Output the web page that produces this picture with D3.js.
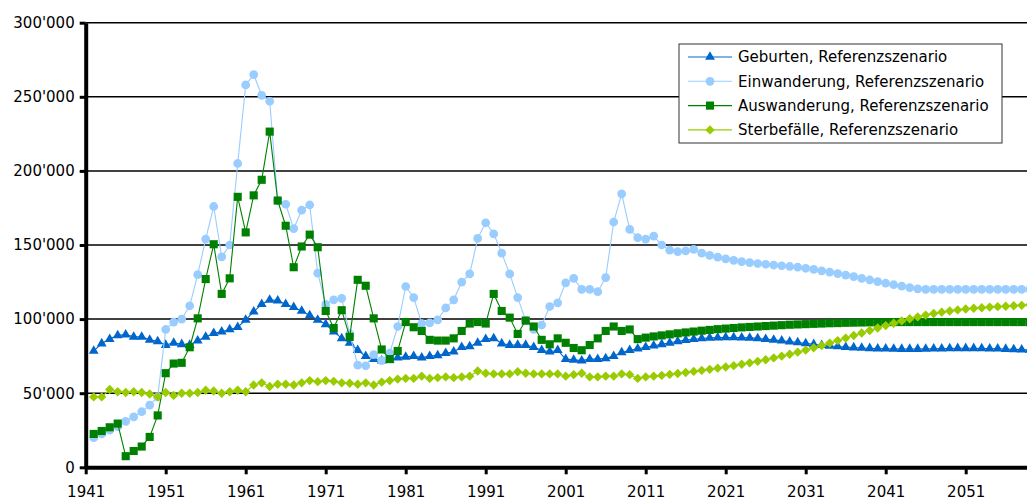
<!DOCTYPE html>
<html>
<head>
<meta charset="utf-8">
<script src="https://cdn.jsdelivr.net/npm/d3@7"></script>
<style>
  body { margin: 0; background: #fff; }
  text { font-family: "DejaVu Sans", Verdana, sans-serif; font-size: 15px; fill: #000; }
</style>
</head>
<body>
<script>
// categories: one value per year, first point 1942
var years = d3.range(1942, 2061);
var xTicks = [1941, 1951, 1961, 1971, 1981, 1991, 2001, 2011, 2021, 2031, 2041, 2051];
var yTicks = [0, 50000, 100000, 150000, 200000, 250000, 300000];

var geburten = [
    78500, 83500, 86500, 89000, 89500, 88000, 88000, 86000, 85000, 82500,
    84000, 83000, 82500, 85500, 88000, 90500, 91500, 93000, 94500, 99500,
    105000, 110000, 113000, 112500, 110000, 108000, 105500, 102500, 99500, 96500,
    91500, 87000, 84000, 79000, 75000, 73000, 72000, 72500, 74000, 74500,
    75000, 74000, 75000, 75500, 77000, 78000, 81000, 81500, 84000, 86500,
    87000, 83500, 82500, 82500, 82500, 81000, 79000, 78000, 79000, 73000,
    72500, 72000, 73000, 73000, 73500, 75000, 77500, 79000, 80000, 81000,
    82000, 83000, 84000, 85000, 85800, 86400, 86900, 87300, 87500, 87600,
    87600, 87500, 87300, 87000, 86500, 86000, 85400, 84800, 84200, 83600,
    83000, 82400, 81900, 81500, 81100, 80800, 80500, 80300, 80100, 80000,
    79900, 79800, 79800, 79800, 79900, 80000, 80100, 80200, 80300, 80300,
    80300, 80200, 80100, 80000, 79800, 79600, 79400, 79200, 79000
];
var einwanderung = [
    20000, 22500, 25000, 27500, 31000, 34000, 37500, 42000, 47500, 93000,
    98000, 100000, 109000, 130000, 154000, 176000, 142000, 150000, 205000, 258000,
    265000, 251000, 247000, 180000, 177500, 161000, 173500, 177000, 131000, 110000,
    113000, 114000, 90000, 69000, 68500, 76000, 72000, 77000, 95000, 122000,
    114500, 97000, 97500, 99500, 107500, 113000, 125000, 130500, 154500, 165000,
    157500, 144500, 130500, 114500, 99000, 93000, 96000, 108500, 111000, 124500,
    127500, 120000, 120000, 118500, 128000, 165500, 184500, 160500, 155000, 154000,
    156000, 150000, 146500, 145500, 146000, 147000, 144500, 143000, 141800, 140600,
    139600, 138800, 138100, 137500, 137000, 136500, 136000, 135500, 135000, 134300,
    133500, 132600, 131700, 130700, 129700, 128600, 127500, 126400, 125300, 124200,
    123200, 122200, 121200, 120400, 120000, 120000, 120000, 120000, 120000, 120000,
    120000, 120000, 120000, 120000, 120000, 120000, 120000, 120000, 120000
];
var auswanderung = [
    22500, 24500, 27000, 29500, 7500, 11000, 14000, 20500, 35000, 63500,
    70000, 70500, 81000, 100500, 127000, 150500, 117000, 127500, 182500, 158500,
    183500, 194000, 226500, 180000, 163000, 135000, 149000, 157000, 148500, 105500,
    94000, 106000, 88000, 126500, 122500, 100500, 79500, 73000, 78500, 98000,
    94500, 92000, 86000, 85500, 85500, 87000, 92000, 97000, 98000, 97000,
    117000, 105500, 101000, 90000, 99000, 95000, 86000, 83000, 87000, 84000,
    80500, 79000, 82500, 87000, 92000, 95000, 92000, 93000, 86500, 87500,
    88300, 89000, 89700, 90400, 91000, 91600, 92200, 92700, 93200, 93600,
    94000, 94400, 94700, 95000, 95300, 95600, 95900, 96200, 96400, 96600,
    96800, 97000, 97200, 97300, 97500, 97600, 97700, 97800, 97900, 98000,
    98000, 98000, 98000, 98000, 98000, 98000, 98000, 98000, 98000, 98000,
    98000, 98000, 98000, 98000, 98000, 98000, 98000, 98000, 98000
];
var sterbefaelle = [
    47500, 47500, 52500, 51000, 50500, 51000, 50500, 49500, 47500, 50500,
    48500, 50000, 50000, 50500, 52000, 51500, 50000, 51000, 52000, 51000,
    55500, 57000, 54500, 56000, 56000, 55500, 57000, 58500, 57800, 58500,
    58000, 57000, 56700, 56000, 57000, 55500, 57500, 58500, 59500, 60000,
    60000, 61500, 60000, 60500, 61000, 60500, 61000, 61500, 65000, 63500,
    63000, 63000, 63000, 64500, 63500, 63000, 63000, 63000, 63000, 61500,
    62500, 63500, 61000, 61000, 61500, 61500, 63000, 62500, 60000, 61000,
    61500, 62000, 62700, 63300, 64000, 64700, 65400, 66100, 66900, 67700,
    68600, 69500, 70500, 71500, 72600, 73800, 75000, 76300, 77700, 79100,
    80600, 82200, 83800, 85500, 87200, 88900, 90600, 92300, 94000, 95600,
    97200, 98800, 100200, 101500, 102700, 103800, 104700, 105500, 106200, 106800,
    107300, 107700, 108100, 108400, 108700, 109000, 109300, 109600, 109900
];

// square diamond, same width as height
var symbolRhomb = {
    draw: function(ctx, size) {
        var r = Math.sqrt(size / 2);
        ctx.moveTo(0, -r);
        ctx.lineTo(r, 0);
        ctx.lineTo(0, r);
        ctx.lineTo(-r, 0);
        ctx.closePath();
    }
};

var seriesNames = ['Geburten, Referenzszenario', 'Einwanderung, Referenzszenario',
    'Auswanderung, Referenzszenario', 'Sterbefälle, Referenzszenario'];
var seriesColors = ['#0066cc', '#99ccff', '#008000', '#99cc00'];
var seriesSymbols = [d3.symbolTriangle, d3.symbolCircle, d3.symbolSquare, symbolRhomb];
var seriesSizes = [42, 60, 66, 44];
var seriesValues = [geburten, einwanderung, auswanderung, sterbefaelle];

var w = 1027,
    h = 502;

var svg = d3.select('body')
    .append('svg')
    .attr('width', w)
    .attr('height', h);

var x = d3.scaleLinear()
    .domain([1941, 2061])
    .range([85.7, 85.7 + 120 * 8]);
var y = d3.scaleLinear()
    .domain([0, 300000])
    .range([467.3, 22.7]);

var fmt = d3.formatLocale({ decimal: '.', thousands: "'", grouping: [3], currency: ['', ''] }).format(',');

// gridlines
svg.append('g')
    .selectAll('line')
    .data(yTicks.slice(1))
    .enter()
    .append('line')
    .attr('x1', x(1941))
    .attr('x2', w)
    .attr('y1', function(d) { return y(d); })
    .attr('y2', function(d) { return y(d); })
    .attr('stroke', '#000')
    .attr('stroke-width', 1.5);

// series: line then markers, in drawing order
seriesValues.forEach(function(vals, i) {
    var pts = years.map(function(yr, j) { return [yr, vals[j]]; });
    var g = svg.append('g');
    g.append('path')
        .datum(pts)
        .attr('fill', 'none')
        .attr('stroke', seriesColors[i])
        .attr('stroke-width', 1.1)
        .attr('d', d3.line()
            .x(function(d) { return x(d[0]); })
            .y(function(d) { return y(d[1]); }));
    g.selectAll('path.mk')
        .data(pts)
        .enter()
        .append('path')
        .attr('class', 'mk')
        .attr('transform', function(d) { return 'translate(' + x(d[0]) + ',' + y(d[1]) + ')'; })
        .attr('d', d3.symbol().type(seriesSymbols[i]).size(seriesSizes[i]))
        .attr('fill', seriesColors[i]);
});

// axes
var yAxis = svg.append('g')
    .attr('transform', 'translate(' + x(1941) + ',0)')
    .call(d3.axisLeft(y)
        .tickValues(yTicks)
        .tickFormat(fmt)
        .tickSize(6)
        .tickSizeOuter(0)
        .tickPadding(5));
yAxis.select('.domain').attr('stroke', '#000').attr('stroke-width', 4);
yAxis.selectAll('.tick line').attr('stroke', '#000').attr('stroke-width', 3);
yAxis.selectAll('text').attr('font-size', null).attr('font-family', null);

var xAxis = svg.append('g')
    .attr('transform', 'translate(0,' + y(0) + ')')
    .call(d3.axisBottom(x)
        .tickValues(xTicks)
        .tickFormat(d3.format('d'))
        .tickSize(7)
        .tickSizeOuter(0)
        .tickPadding(12));
xAxis.select('.domain').attr('stroke', '#000').attr('stroke-width', 4);
xAxis.selectAll('.tick line').attr('stroke', '#000').attr('stroke-width', 3);
xAxis.selectAll('text').attr('font-size', null).attr('font-family', null);

// legend
var lg = svg.append('g')
    .attr('transform', 'translate(679,44)');
lg.append('rect')
    .attr('width', 323)
    .attr('height', 99)
    .attr('fill', '#fff')
    .attr('stroke', '#333')
    .attr('stroke-width', 1);
seriesNames.forEach(function(name, i) {
    var cy = 13 + i * 24.3;
    lg.append('line')
        .attr('x1', 9)
        .attr('x2', 53)
        .attr('y1', cy)
        .attr('y2', cy)
        .attr('stroke', seriesColors[i])
        .attr('stroke-width', 1.1);
    lg.append('path')
        .attr('transform', 'translate(31,' + cy + ')')
        .attr('d', d3.symbol().type(seriesSymbols[i]).size(seriesSizes[i]))
        .attr('fill', seriesColors[i]);
    lg.append('text')
        .attr('x', 59)
        .attr('y', cy)
        .attr('dy', '0.36em')
        .text(name);
});
</script>
</body>
</html>
